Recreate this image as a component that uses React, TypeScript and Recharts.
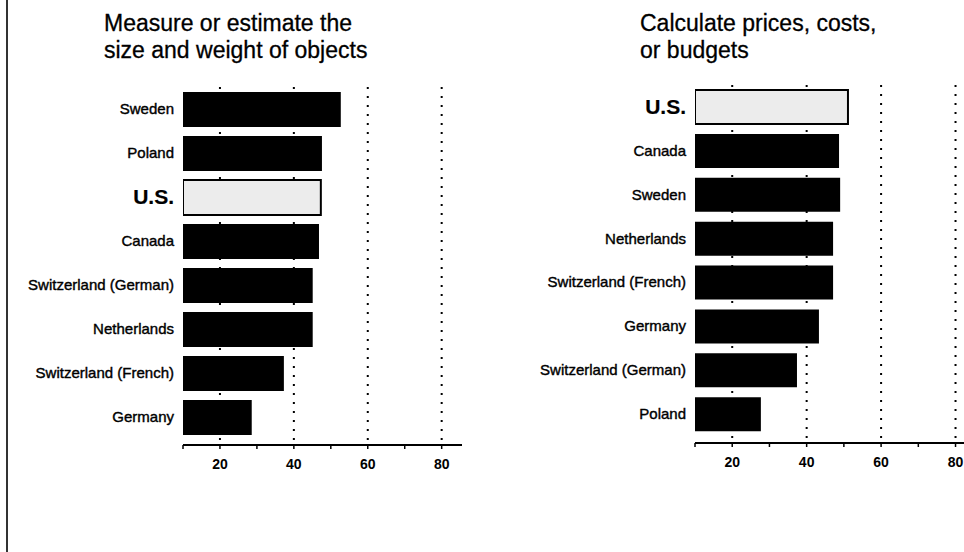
import React from 'react';
import { BarChart, Bar, XAxis, YAxis, CartesianGrid, Cell } from 'recharts';

const leftTitle = ['Measure or estimate the', 'size and weight of objects'];
const leftCountries = ['Sweden', 'Poland', 'U.S.', 'Canada', 'Switzerland (German)', 'Netherlands', 'Switzerland (French)', 'Germany'];
const leftValues = [52.7, 47.6, 47.3, 46.8, 45.1, 45.1, 37.3, 28.6];

const rightTitle = ['Calculate prices, costs,', 'or budgets'];
const rightCountries = ['U.S.', 'Canada', 'Sweden', 'Netherlands', 'Switzerland (French)', 'Germany', 'Switzerland (German)', 'Poland'];
const rightValues = [51.1, 48.7, 49.0, 47.1, 47.1, 43.3, 37.4, 27.7];

const xTicks = [10, 20, 30, 40, 50, 60, 70, 80];
const xDomain = [10, 85.5];
const gridValues = [20, 40, 60, 80];
const highlight = 'U.S.';

const FONT = '"Liberation Sans", Arial, Helvetica, sans-serif';

const CountryTick = (props: any) => {
  const { x, y, payload } = props;
  const isUS = payload.value === highlight;
  return (
    <text
      x={x}
      y={y}
      dy={isUS ? 7 : 5}
      textAnchor="end"
      fontFamily={FONT}
      fontSize={isUS ? 21 : 15}
      fontWeight={isUS ? 'bold' : 'normal'}
      fill="#000"
      stroke="#000"
      strokeWidth={isUS ? 0.2 : 0.4}
    >
      {payload.value}
    </text>
  );
};

type PanelProps = {
  countries: string[];
  values: number[];
  left: number;
  width: number;
  yAxisWidth: number;
  marginTop: number;
  marginRight: number;
  marginBottom: number;
  padBottom: number;
  barSize: number;
};

const Panel = ({ countries, values, left, width, yAxisWidth, marginTop, marginRight, marginBottom, padBottom, barSize }: PanelProps) => {
  const data = countries.map((c, i) => ({ country: c, value: values[i] }));
  return (
    <div style={{ position: 'absolute', left, top: 0 }}>
      <BarChart
        width={width}
        height={552}
        data={data}
        layout="vertical"
        margin={{ top: marginTop, right: marginRight, bottom: marginBottom, left: 0 }}
      >
        <CartesianGrid
          horizontal={false}
          stroke="#000"
          strokeWidth={2}
          strokeDasharray="2 7"
          verticalValues={gridValues}
        />
        <XAxis
          type="number"
          domain={xDomain}
          ticks={xTicks}
          interval={0}
          allowDataOverflow
          height={30}
          axisLine={{ stroke: '#000', strokeWidth: 2 }}
          tickLine={{ stroke: '#000', strokeWidth: 1.5 }}
          tickSize={4}
          tickMargin={10}
          tickFormatter={(v: number) => (v % 20 === 0 ? String(v) : '')}
          tick={{ fill: '#000', fontFamily: FONT, fontSize: 14, fontWeight: 'bold' }}
        />
        <YAxis
          type="category"
          dataKey="country"
          width={yAxisWidth}
          axisLine={false}
          tickLine={false}
          tickSize={0}
          tickMargin={9}
          interval={0}
          padding={{ top: 0, bottom: padBottom }}
          tick={<CountryTick />}
        />
        <Bar dataKey="value" barSize={barSize} isAnimationActive={false}>
          {data.map((d) => (
            <Cell
              key={d.country}
              fill={d.country === highlight ? '#ececec' : '#000'}
              stroke={d.country === highlight ? '#000' : 'none'}
              strokeWidth={d.country === highlight ? 2 : 0}
            />
          ))}
        </Bar>
      </BarChart>
    </div>
  );
};

const Title = ({ lines, left }: { lines: string[]; left: number }) => (
  <div
    style={{
      position: 'absolute',
      left,
      top: 10,
      fontFamily: FONT,
      fontSize: 23,
      lineHeight: '27px',
      color: '#000',
      whiteSpace: 'nowrap',
      WebkitTextStroke: '0.3px #000',
    }}
  >
    {lines.map((l) => (
      <div key={l}>{l}</div>
    ))}
  </div>
);

export default function App() {
  return (
    <div
      style={{
        position: 'fixed',
        left: 0,
        top: 0,
        width: 964,
        height: 552,
        overflow: 'hidden',
        background: '#fff',
      }}
    >
      <div style={{ position: 'absolute', left: 6, top: 0, width: 2, height: 552, background: '#333' }} />
      <Title lines={leftTitle} left={104} />
      <Title lines={rightTitle} left={640} />
      <Panel
        countries={leftCountries}
        values={leftValues}
        left={0}
        width={480}
        yAxisWidth={183}
        marginTop={87}
        marginRight={18}
        marginBottom={77}
        padBottom={6}
        barSize={35}
      />
      <Panel
        countries={rightCountries}
        values={rightValues}
        left={500}
        width={500}
        yAxisWidth={195}
        marginTop={85}
        marginRight={24}
        marginBottom={79}
        padBottom={7}
        barSize={34}
      />
    </div>
  );
}
